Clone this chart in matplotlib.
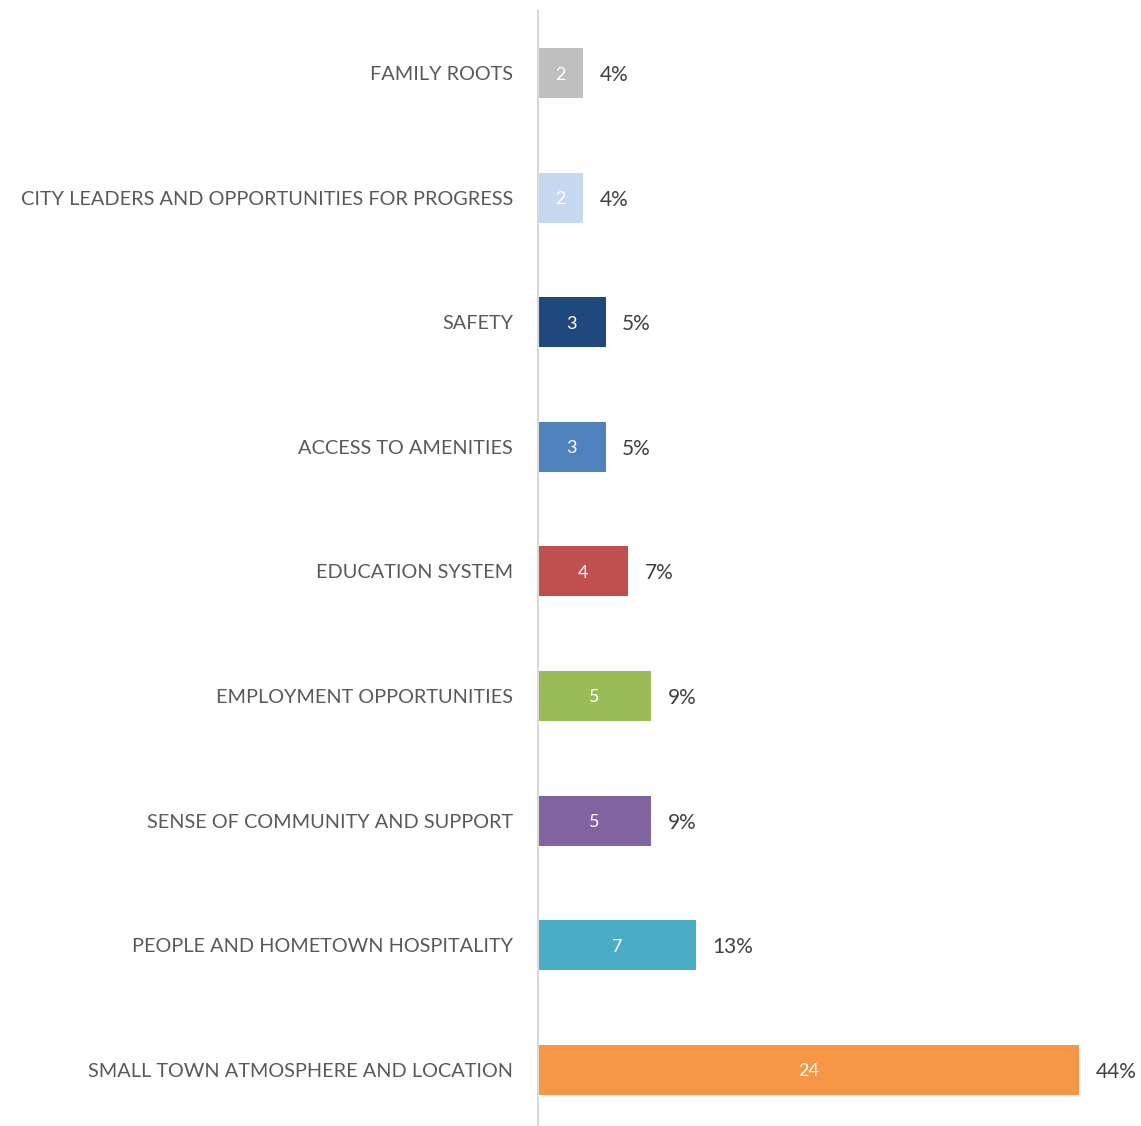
import matplotlib
matplotlib.use("Agg")
import matplotlib.pyplot as plt

categories = [
    "FAMILY ROOTS",
    "CITY LEADERS AND OPPORTUNITIES FOR PROGRESS",
    "SAFETY",
    "ACCESS TO AMENITIES",
    "EDUCATION SYSTEM",
    "EMPLOYMENT OPPORTUNITIES",
    "SENSE OF COMMUNITY AND SUPPORT",
    "PEOPLE AND HOMETOWN HOSPITALITY",
    "SMALL TOWN ATMOSPHERE AND LOCATION",
]
counts = [2, 2, 3, 3, 4, 5, 5, 7, 24]
percents = ["4%", "4%", "5%", "5%", "7%", "9%", "9%", "13%", "44%"]
colors = ["#BFBFBF", "#C6D9F1", "#1F497D", "#4F81BD", "#C0504D",
          "#9BBB59", "#8064A2", "#4BACC6", "#F79646"]

plt.rcParams["font.family"] = ["Lato", "DejaVu Sans"]

W, H = 1141, 1126
fig = plt.figure(figsize=(W / 100, H / 100), dpi=100)
ax_h = 9 * 124.6
ax_top = 10.7
ax = fig.add_axes([538 / W, (H - ax_top - ax_h) / H, 603 / W, ax_h / H])

y = list(range(len(categories)))
ax.barh(y, counts, height=0.4, color=colors)
ax.set_ylim(len(categories) - 0.5, -0.5)
ax.set_xlim(0, 26.75)

for yi, c, p in zip(y, counts, percents):
    ax.text(c / 2, yi, str(c), ha="center", va="center_baseline",
            color="white", fontsize=13)
    ax.annotate(p, (c, yi), xytext=(12, 0), textcoords="offset points",
                ha="left", va="center_baseline", color="#404040", fontsize=15)

ax.set_yticks(y)
ax.set_yticklabels(categories, fontsize=14.3, color="#595959",
                   va="center_baseline")
ax.tick_params(axis="y", length=0, pad=18)
ax.set_xticks([])
for s in ["top", "right", "bottom"]:
    ax.spines[s].set_visible(False)
ax.spines["left"].set_color("#D9D9D9")
ax.spines["left"].set_linewidth(1.5)

fig.savefig("out.png", dpi=100)
